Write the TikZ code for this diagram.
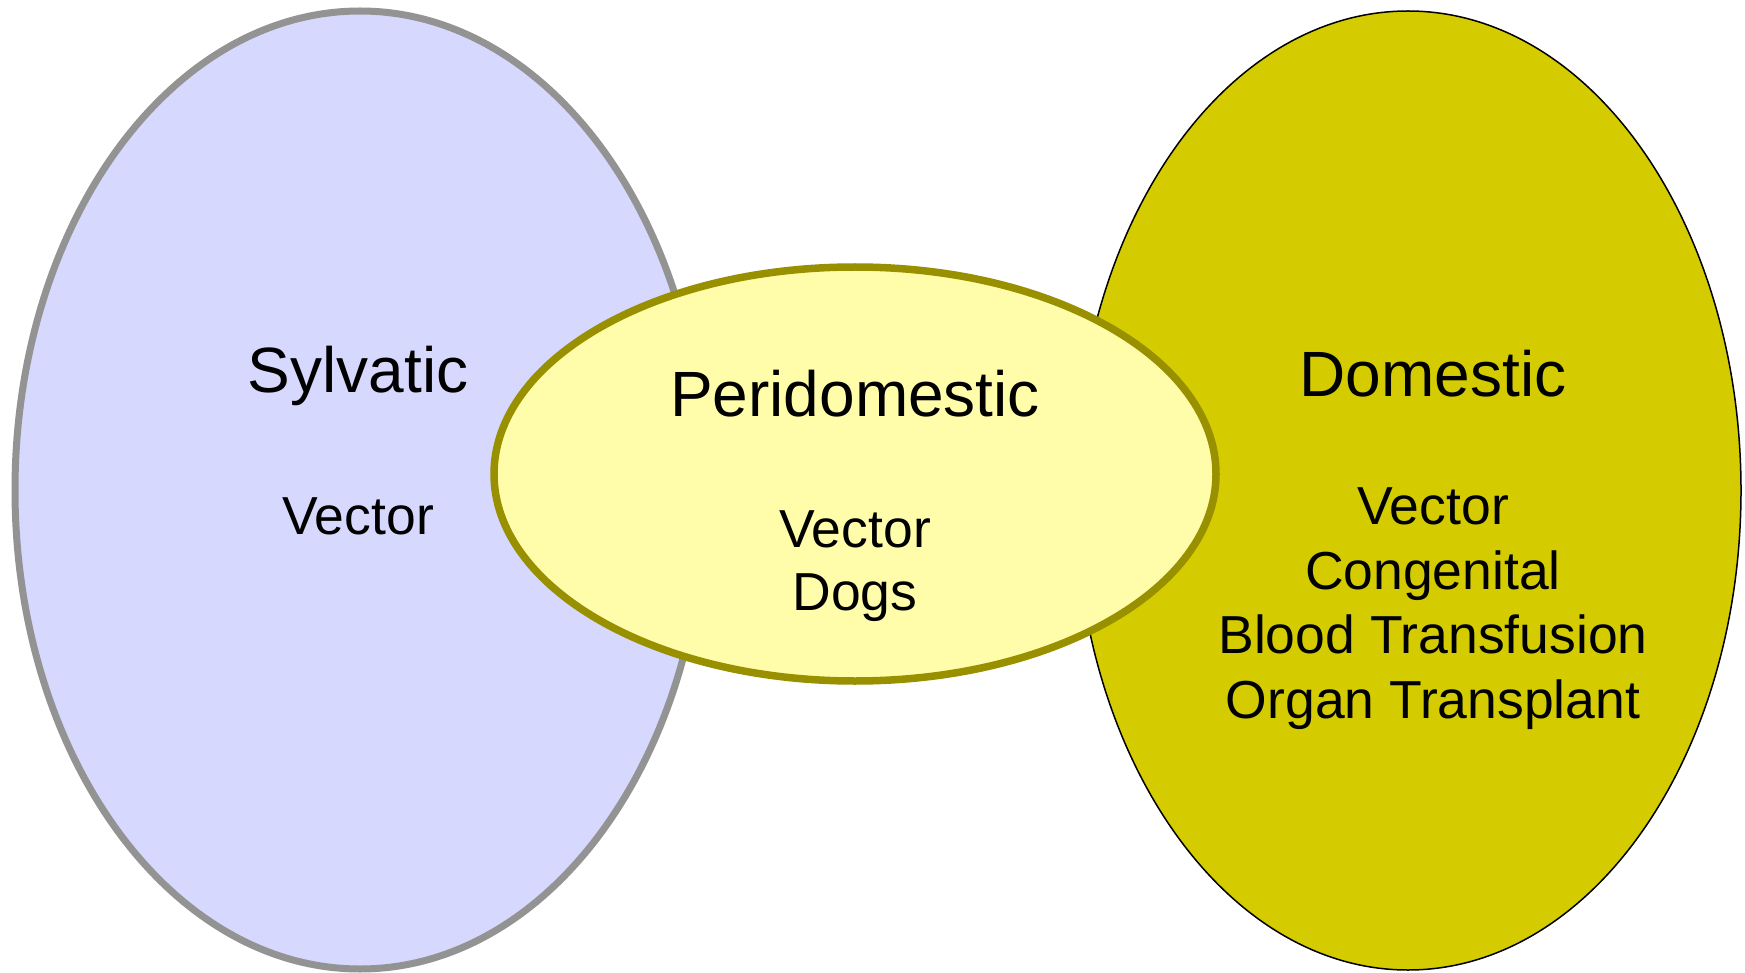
\documentclass[tikz,border=0pt]{standalone}
\usepackage{fontspec}
\setmainfont{Liberation Sans}
\usetikzlibrary{shapes.geometric}
\definecolor{sylvfill}{HTML}{D6D8FD}
\definecolor{sylvline}{HTML}{939393}
\definecolor{perifill}{HTML}{FFFDAA}
\definecolor{periline}{HTML}{999000}
\definecolor{domfill}{HTML}{D4CC00}

\begin{document}
\begin{tikzpicture}[
  x=1pt, y=-1pt,
  cycle/.style={ellipse, inner sep=0pt, outer sep=0pt},
  title/.style={font=\fontsize{64}{76}\selectfont, anchor=base, inner sep=0pt},
  route/.style={font=\fontsize{53.5}{63}\selectfont, anchor=base, align=center, inner sep=0pt}
]
\useasboundingbox[fill=white] (0,0) rectangle (1745,973);

% the three transmission cycles
\node[cycle, draw=sylvline, line width=7pt, fill=sylvfill,
  minimum width=690pt, minimum height=958pt] (sylv) at (360,490) {};
\node[cycle, draw=black, line width=1.5pt, fill=domfill,
  minimum width=666pt, minimum height=959pt] (dom) at (1408,490.5) {};
\node[cycle, draw=periline, line width=7.5pt, fill=perifill,
  minimum width=722pt, minimum height=414pt] (peri) at (855,474) {};

% titles
\node[title] (sylvtitle) at (358,392) {Sylvatic};
\node[title] (perititle) at (855,416) {Peridomestic};
\node[title] (domtitle) at (1433,396) {Domestic};

% routes (base anchor sits on the last line)
\node[route] (sylvroute) at (358,534) {Vector};
\node[route] (periroute) at (855,610) {Vector\\Dogs};
\node[route, font=\fontsize{53.5}{64.5}\selectfont] (domroute) at (1433,718) {Vector\\Congenital\\Blood Transfusion\\Organ Transplant};
\end{tikzpicture}
\end{document}
